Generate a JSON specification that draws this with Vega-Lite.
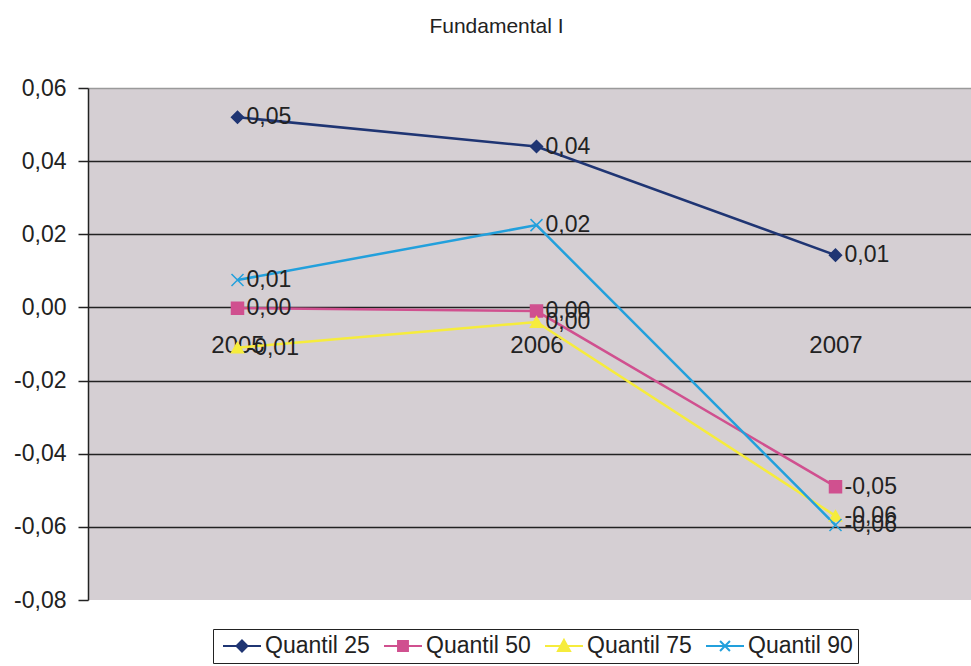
{
  "$schema": "https://vega.github.io/schema/vega-lite/v6.json",
  "autosize": {"type": "none"},
  "padding": {"left": 88, "top": 88, "right": 0, "bottom": 66},
  "width": 897,
  "height": 512,
  "background": "white",
  "title": {"text": "Fundamental I", "fontSize": 21, "font": "Liberation Sans", "fontWeight": "normal", "color": "#222222", "anchor": "middle", "dx": -40, "offset": 40},
  "data": {"values": [
    {"year": "2005", "serie": "Quantil 25", "v": 0.052},
    {"year": "2006", "serie": "Quantil 25", "v": 0.044},
    {"year": "2007", "serie": "Quantil 25", "v": 0.0143},
    {"year": "2005", "serie": "Quantil 50", "v": -0.0002},
    {"year": "2006", "serie": "Quantil 50", "v": -0.001},
    {"year": "2007", "serie": "Quantil 50", "v": -0.049},
    {"year": "2005", "serie": "Quantil 75", "v": -0.011},
    {"year": "2006", "serie": "Quantil 75", "v": -0.004},
    {"year": "2007", "serie": "Quantil 75", "v": -0.057},
    {"year": "2005", "serie": "Quantil 90", "v": 0.0075},
    {"year": "2006", "serie": "Quantil 90", "v": 0.0225},
    {"year": "2007", "serie": "Quantil 90", "v": -0.0595}
  ]},
  "encoding": {
    "x": {"field": "year", "type": "ordinal", "scale": {"type": "point", "padding": 0.5},
      "axis": {"title": null, "orient": "bottom", "offset": -292.6, "domain": false, "ticks": false, "labelAngle": 0, "labelPadding": 26, "labelFontSize": 24, "labelFont": "Liberation Sans", "labelColor": "#222222", "grid": false}},
    "y": {"field": "v", "type": "quantitative", "scale": {"domain": [-0.08, 0.06], "nice": false, "zero": false},
      "axis": {"title": null, "values": [-0.08, -0.06, -0.04, -0.02, 0, 0.02, 0.04, 0.06], "format": ".2f", "labelFontSize": 23, "labelFont": "Liberation Sans", "labelColor": "#222222", "tickSize": 10, "tickColor": "#222222", "tickWidth": 1.5, "labelPadding": 12, "domainColor": "#222222", "domainWidth": 1.5, "grid": true, "gridWidth": 1.5,
        "gridColor": {"condition": [{"test": "datum.value < -0.07", "value": "transparent"}, {"test": "datum.value > 0.05", "value": "#9a9a9a"}], "value": "#222222"}}}
  },
  "layer": [
    {
      "mark": {"type": "line", "strokeWidth": 2.5},
      "encoding": {
        "color": {"field": "serie", "type": "nominal", "legend": null,
          "scale": {"domain": ["Quantil 25", "Quantil 50", "Quantil 75", "Quantil 90"], "range": ["#1f3573", "#d0508f", "#f6ec3c", "#22a0dc"]}}
      }
    },
    {
      "mark": {"type": "point", "filled": true, "opacity": 1, "strokeWidth": 1.5, "size": 144},
      "encoding": {
        "color": {"field": "serie", "type": "nominal", "legend": null,
          "scale": {"domain": ["Quantil 25", "Quantil 50", "Quantil 75", "Quantil 90"], "range": ["#1f3573", "#d0508f", "#f6ec3c", "#22a0dc"]}},
        "stroke": {"field": "serie", "type": "nominal", "legend": null,
          "scale": {"domain": ["Quantil 25", "Quantil 50", "Quantil 75", "Quantil 90"], "range": ["#1f3573", "#d0508f", "#f6ec3c", "#22a0dc"]}},
        "shape": {"field": "serie", "type": "nominal", "legend": null,
          "scale": {"domain": ["Quantil 25", "Quantil 50", "Quantil 75", "Quantil 90"], "range": ["diamond", "square", "triangle-up", "M-1,-1L1,1M1,-1L-1,1"]}}
      }
    },
    {
      "mark": {"type": "text", "align": "left", "baseline": "middle", "dx": 9, "fontSize": 23, "font": "Liberation Sans", "color": "#222222"},
      "encoding": {
        "text": {"field": "v", "type": "quantitative", "format": ".2f"}
      }
    },
    {
      "transform": [{"filter": "datum.v > 1"}],
      "mark": {"type": "point", "filled": true, "opacity": 1, "strokeWidth": 2},
      "encoding": {
        "color": {"field": "serie", "type": "nominal",
          "scale": {"domain": ["Quantil 25", "Quantil 50", "Quantil 75", "Quantil 90"], "range": ["#1f3573", "#d0508f", "#f6ec3c", "#22a0dc"]},
          "legend": {"title": null, "orient": "none", "legendX": 125, "legendY": 541, "direction": "horizontal", "columns": 4, "columnPadding": 9, "padding": 5, "strokeColor": "#222222", "labelFontSize": 23, "labelFont": "Liberation Sans", "labelColor": "#222222", "labelOffset": 23, "symbolSize": 484, "symbolStrokeWidth": 2, "symbolOpacity": 1}},
        "stroke": {"field": "serie", "type": "nominal",
          "scale": {"domain": ["Quantil 25", "Quantil 50", "Quantil 75", "Quantil 90"], "range": ["#1f3573", "#d0508f", "#f6ec3c", "#22a0dc"]},
          "legend": {"title": null, "orient": "none", "legendX": 125, "legendY": 541, "direction": "horizontal", "columns": 4, "columnPadding": 9, "padding": 5, "strokeColor": "#222222", "labelFontSize": 23, "labelFont": "Liberation Sans", "labelColor": "#222222", "labelOffset": 23, "symbolSize": 484, "symbolStrokeWidth": 2, "symbolOpacity": 1}},
        "shape": {"field": "serie", "type": "nominal",
          "scale": {"domain": ["Quantil 25", "Quantil 50", "Quantil 75", "Quantil 90"], "range": [
            "M-0.636,0L2.818,0M1.09,-0.5L1.59,0L1.09,0.5L0.59,0Z",
            "M-0.636,0L2.818,0M0.64,-0.45L1.54,-0.45L1.54,0.45L0.64,0.45Z",
            "M-0.636,0L2.818,0M1.09,-0.55L1.64,0.45L0.54,0.45Z",
            "M-0.636,0L2.818,0M0.64,-0.45L1.54,0.45M1.54,-0.45L0.64,0.45"]},
          "legend": {"title": null, "orient": "none", "legendX": 125, "legendY": 541, "direction": "horizontal", "columns": 4, "columnPadding": 9, "padding": 5, "strokeColor": "#222222", "labelFontSize": 23, "labelFont": "Liberation Sans", "labelColor": "#222222", "labelOffset": 23, "symbolSize": 484, "symbolStrokeWidth": 2, "symbolOpacity": 1}}
      }
    }
  ],
  "resolve": {"scale": {"shape": "independent", "color": "independent", "stroke": "independent"}},
  "config": {
    "locale": {"number": {"decimal": ",", "thousands": ".", "grouping": [3], "currency": ["", ""], "minus": "-"}},
    "view": {"fill": "#d5cfd3", "stroke": null}
  }
}
